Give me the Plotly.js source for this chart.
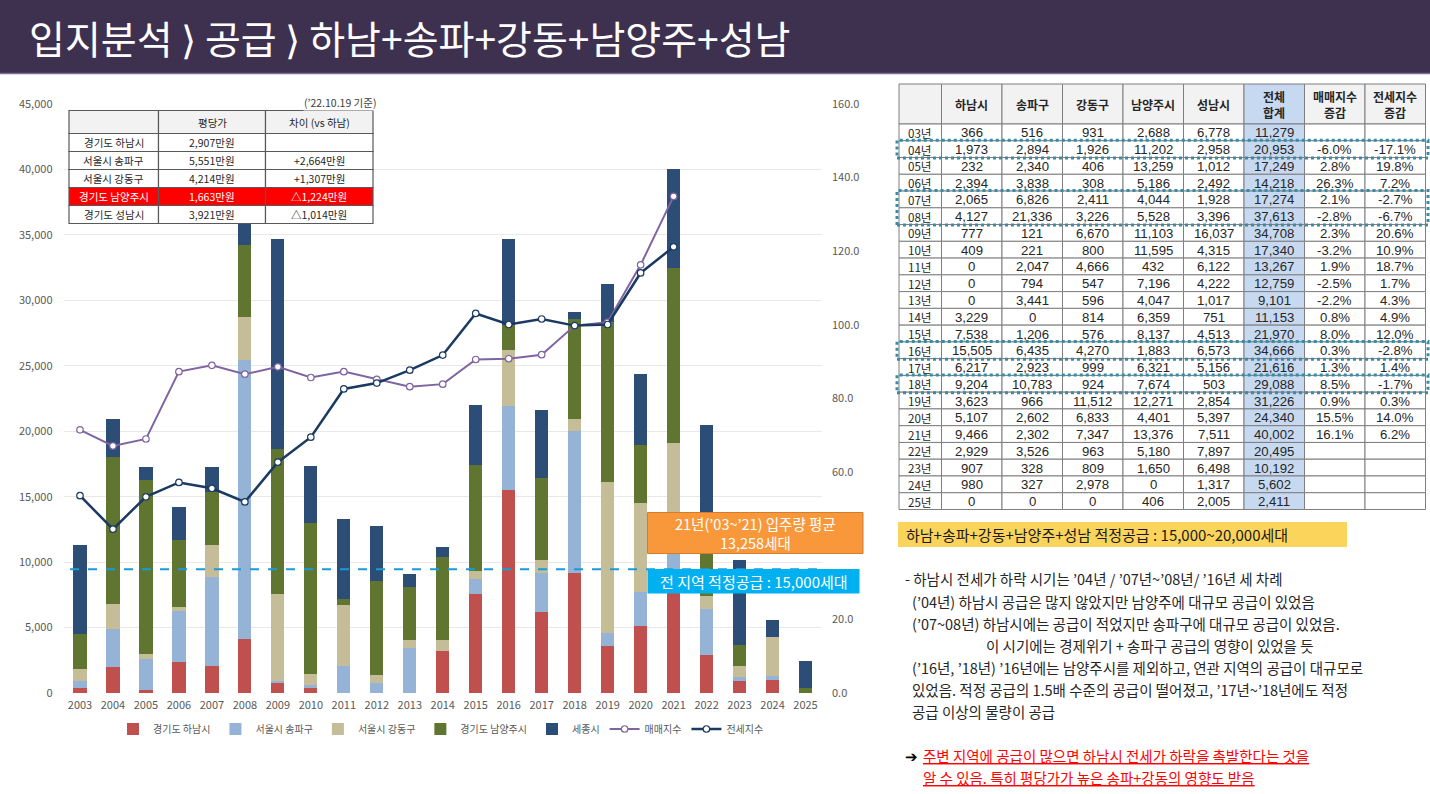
<!DOCTYPE html>
<html><head><meta charset="utf-8">
<script src="https://cdn.plot.ly/plotly-3.0.1.min.js"></script>
<style>html,body{margin:0;padding:0;background:#fff;overflow:hidden}#chart{width:1430px;height:794px}</style>
</head><body><div id="chart"></div>
<script>
// ---------- data ----------
const years = ['2003','2004','2005','2006','2007','2008','2009','2010','2011','2012','2013','2014','2015','2016','2017','2018','2019','2020','2021','2022','2023','2024','2025'];
const hanam     = [366,1973,232,2394,2065,4127,777,409,0,0,0,3229,7538,15505,6217,9204,3623,5107,9466,2929,907,980,0];
const songpa    = [516,2894,2340,3838,6826,21336,121,221,2047,794,3441,0,1206,6435,2923,10783,966,2602,2302,3526,328,327,0];
const gangdong  = [931,1926,406,308,2411,3226,6670,800,4666,547,596,814,576,4270,999,924,11512,6833,7347,963,809,2978,0];
const namyangju = [2688,11202,13259,5186,4044,5528,11103,11595,432,7196,4047,6359,8137,1883,6321,7674,12271,4401,13376,5180,1650,0,406];
const seongnam  = [6778,2958,1012,2492,1928,3396,16037,4315,6122,4222,1017,751,4513,6573,5156,503,2854,5397,7511,7897,6498,1317,2005];
const totals    = [11279,20953,17249,14218,17274,37613,34708,17340,13267,12759,9101,11153,21970,34666,21616,29088,31226,24340,40002,20495,10192,5602,2411];
const saleChg   = ['','-6.0%','2.8%','26.3%','2.1%','-2.8%','2.3%','-3.2%','1.9%','-2.5%','-2.2%','0.8%','8.0%','0.3%','1.3%','8.5%','0.9%','15.5%','16.1%','','','',''];
const jeonseChg = ['','-17.1%','19.8%','7.2%','-2.7%','-6.7%','20.6%','10.9%','18.7%','1.7%','4.3%','4.9%','12.0%','-2.8%','1.4%','-1.7%','0.3%','14.0%','6.2%','','','',''];
const indexYears = years.slice(0,19);
const saleIndex   = [71.5,67.1,69.0,87.3,89.0,86.6,88.6,85.7,87.3,85.2,83.2,83.9,90.6,90.8,91.9,99.8,100.7,116.3,134.9];
const jeonseIndex = [53.6,44.5,53.3,57.2,55.6,51.9,62.7,69.5,82.6,84.2,87.7,91.8,103.1,100.1,101.6,99.8,100.1,114.1,121.2];
const seriesNames = ['경기도 하남시','서울시 송파구','서울시 강동구','경기도 남양주시','세종시','매매지수','전세지수'];
const tableHeaders = ['','하남시','송파구','강동구','남양주시','성남시','전체<br>합계','매매지수<br>증감','전세지수<br>증감'];
const highlightRows = [[1,1],[4,5],[13,13],[15,15]];
const priceRegions = ['경기도 하남시','서울시 송파구','서울시 강동구','경기도 남양주시','경기도 성남시'];
const pricePerPyeong = ['2,907만원','5,551만원','4,214만원','1,663만원','3,921만원'];
const priceDiff = ['','+2,664만원','+1,307만원','△1,224만원','△1,014만원'];
const priceHeaders = ['','평당가','차이 (vs 하남)'];
const priceHighlight = 3;
const supplyLineLevel = 9450;
const titleText = '입지분석 ⟩ 공급 ⟩ 하남+송파+강동+남양주+성남';
const noteLines = [
 '- 하남시 전세가 하락 시기는 ’04년 / ’07년~’08년/ ’16년 세 차례',
 '(’04년) 하남시 공급은 많지 않았지만 남양주에 대규모 공급이 있었음',
 '(’07~08년) 하남시에는 공급이 적었지만 송파구에 대규모 공급이 있었음.',
 '이 시기에는 경제위기 + 송파구 공급의 영향이 있었을 듯',
 '(’16년, ’18년) ’16년에는 남양주시를 제외하고, 연관 지역의 공급이 대규모로',
 '있었음. 적정 공급의 1.5배 수준의 공급이 떨어졌고, ’17년~’18년에도 적정',
 '공급 이상의 물량이 공급'];
const conclusion = ['주변 지역에 공급이 많으면 하남시 전세가 하락을 촉발한다는 것을','알 수 있음. 특히 평당가가 높은 송파+강동의 영향도 받음'];

// ---------- helpers ----------
const W=1430,H=794, FONT="'Noto Sans CJK KR','Noto Sans',sans-serif";
const NUMFONT="'Liberation Sans','Noto Sans CJK KR',sans-serif";
const px=x=>x/W, py=y=>1-y/H;
const shapes=[], annotations=[];
function rect(x0,y0,x1,y1,fill,lc,lw,dash){
  shapes.push({type:'rect',xref:'paper',yref:'paper',x0:px(x0),x1:px(x1),y0:py(y1),y1:py(y0),
    fillcolor:fill||'rgba(0,0,0,0)',line:{color:lc||'rgba(0,0,0,0)',width:lw||0,dash:dash||'solid'},layer:'above'});
}
function line(x0,y0,x1,y1,c,w,dash){
  shapes.push({type:'line',xref:'paper',yref:'paper',x0:px(x0),x1:px(x1),y0:py(y0),y1:py(y1),line:{color:c,width:w,dash:dash||'solid'},layer:'above'});
}
function txt(x,y,t,o){
  o=o||{};
  const a={xref:'paper',yref:'paper',x:px(x),y:py(y),text:t,showarrow:false,xanchor:o.xa||'center',yanchor:'middle',
    align:o.align||'center',font:{family:o.family||FONT,size:o.size||12,color:o.color||'#262626'},borderpad:0};
  if(o.bg) a.bgcolor=o.bg;
  if(o.under) a.font.lineposition='under';
  annotations.push(a);
}

// title bar
rect(0,0,W,73,'#3e3150');
line(0,73.5,W,73.5,'#7d6e93',1.5);
txt(28,37,titleText,{xa:'left',size:39,color:'#ffffff'});

// supply dashed line (data coords)
shapes.push({type:'line',xref:'paper',yref:'y',x0:px(70),x1:px(822),y0:supplyLineLevel,y1:supplyLineLevel,
  line:{color:'#1c9ad8',width:2,dash:'dash'},layer:'above'});

// left price table
const pCols=[69,158.5,265.5,373];
const pRows=[110.5,133.5,151.5,169.5,187.5,205.5,223.5];
for(let r=0;r<6;r++){
  for(let c=0;c<3;c++){
    let fill='#ffffff', tc='#262626';
    if(r===0) fill='#f2f2f2';
    if(r-1===priceHighlight){fill='#ff0000'; tc='#ffffff';}
    rect(pCols[c],pRows[r],pCols[c+1],pRows[r+1],fill,'#595959',1.2);
    let t = r===0 ? priceHeaders[c] : [priceRegions,pricePerPyeong,priceDiff][c][r-1];
    if(t) txt((pCols[c]+pCols[c+1])/2,(pRows[r]+pRows[r+1])/2,t,{size:10.5,color:tc});
  }
}
txt(378,102,'(’22.10.19 기준)',{xa:'right',size:10.5,color:'#404040',bg:'#ffffff'});

// right data table
const tCols=[899,941.5,1002,1062.5,1123,1183.5,1244,1304.5,1365,1425.5];
const tTop=84, tHead=124, tBottom=509.5, rowH=(tBottom-tHead)/years.length;
for(let c=0;c<9;c++){
  rect(tCols[c],tTop,tCols[c+1],tHead,c===6?'#c6d9f1':'#f2f2f2','#7f7f7f',1);
  if(tableHeaders[c]) txt((tCols[c]+tCols[c+1])/2,(tTop+tHead)/2,'<b>'+tableHeaders[c]+'</b>',{size:12});
}
const fmt=v=>v.toLocaleString('en-US');
years.forEach((yr,r)=>{
  const y0=tHead+r*rowH, y1=y0+rowH, yc=(y0+y1)/2;
  const vals=[yr.slice(2)+'년',fmt(hanam[r]),fmt(songpa[r]),fmt(gangdong[r]),fmt(namyangju[r]),fmt(seongnam[r]),fmt(totals[r]),saleChg[r],jeonseChg[r]];
  for(let c=0;c<9;c++){
    rect(tCols[c],y0,tCols[c+1],y1,c===6?'#c6d9f1':'#ffffff','#7f7f7f',1);
    if(vals[c]) txt((tCols[c]+tCols[c+1])/2,yc+0.5,vals[c],
      c===0?{size:11.6}:{size:13.2,family:NUMFONT});
  }
});
highlightRows.forEach(([a,b])=>{
  rect(897,tHead+a*rowH-0.5,1428,tHead+(b+1)*rowH+0.5,null,'#3a8ca6',3,'dot');
});

// yellow note
rect(898,522,1347,547,'#fbd45c');
txt(905,534.5,'하남+송파+강동+남양주+성남 적정공급 : 15,000~20,000세대',{xa:'left',size:15,color:'#1a1a1a'});
const noteY=[578.5,601,623,645.5,667.5,689.5,711.5];
const noteX=[904,911,911,985,911,911,911];
noteLines.forEach((t,i)=>txt(noteX[i],noteY[i],t,{xa:'left',size:14.5,color:'#262626'}));
txt(904,755.5,'➔',{xa:'left',size:15,color:'#000000'});
txt(922,755.5,conclusion[0],{xa:'left',size:14.5,color:'#ff0000',under:true});
txt(922,777,conclusion[1],{xa:'left',size:14.5,color:'#ff0000',under:true});

// orange & blue callouts
rect(647.5,512.5,863,553.5,'#f8983a','#d27c2c',1);
txt(755,532.5,'21년(’03~’21) 입주량 평균<br>13,258세대',{size:14.5,color:'#ffffff'});
rect(647.5,569,859.5,593.5,'#00b0f0');
txt(753.5,581,'전 지역 적정공급 : 15,000세대',{size:15,color:'#ffffff'});

// ---------- traces ----------
const barColors=['#c0504d','#95b3d7','#c4bd97','#5f7530','#2c4d75'];
const barData=[hanam,songpa,gangdong,namyangju,seongnam];
const traces = barData.map((d,i)=>({type:'bar',x:years,y:d,name:seriesNames[i],marker:{color:barColors[i]},hoverinfo:'skip'}));
traces.push({type:'scatter',mode:'lines+markers',x:indexYears,y:saleIndex,yaxis:'y2',name:seriesNames[5],
  line:{color:'#8064a2',width:2},marker:{size:6.5,color:'#ffffff',line:{color:'#8064a2',width:1.2}},hoverinfo:'skip'});
traces.push({type:'scatter',mode:'lines+markers',x:indexYears,y:jeonseIndex,yaxis:'y2',name:seriesNames[6],
  line:{color:'#1b3a62',width:2.5},marker:{size:6.5,color:'#ffffff',line:{color:'#1b3a62',width:1.2}},hoverinfo:'skip'});

const layout={
  width:W,height:H,autosize:false,margin:{l:0,r:0,t:0,b:0,pad:0},
  paper_bgcolor:'#ffffff',plot_bgcolor:'rgba(0,0,0,0)',
  font:{family:FONT,size:11,color:'#595959'},
  barmode:'stack',bargap:0.6,
  xaxis:{domain:[px(63.5),px(822)],type:'category',range:[-0.5,years.length-0.5],showgrid:false,zeroline:false,showline:false,ticks:'',
    tickfont:{size:11,color:'#595959'},ticklabelstandoff:4},
  yaxis:{domain:[py(693),py(104)],range:[0,45000],dtick:5000,tickformat:',',gridcolor:'#e8e8e8',gridwidth:1,
    zeroline:false,showline:false,ticks:'',tickfont:{size:11,color:'#595959'},ticklabelstandoff:10},
  yaxis2:{overlaying:'y',side:'right',range:[0,160],dtick:20,tickformat:'.1f',showgrid:false,zeroline:false,
    showline:false,ticks:'',tickfont:{size:11,color:'#595959'},ticklabelstandoff:9},
  showlegend:true,
  legend:{orientation:'h',x:px(441),xanchor:'center',y:py(729),yanchor:'middle',traceorder:'normal',
    font:{size:10,color:'#595959'},itemwidth:30,bgcolor:'rgba(0,0,0,0)'},
  shapes:shapes,annotations:annotations
};
Plotly.newPlot('chart',traces,layout,{displayModeBar:false,staticPlot:true});
</script></body></html>
